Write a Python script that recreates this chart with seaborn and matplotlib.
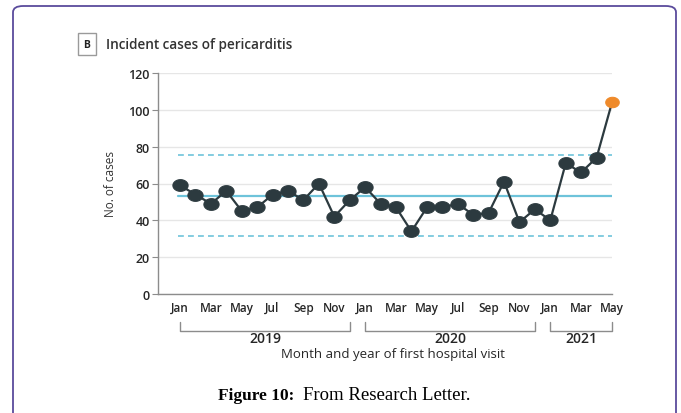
import matplotlib.pyplot as plt
import matplotlib.patches as mpatches
import seaborn as sns
import pandas as pd
import numpy as np

# Monthly incident cases, Jan 2019 - May 2021
month_labels = ["Jan", "Feb", "Mar", "Apr", "May", "Jun",
                "Jul", "Aug", "Sep", "Oct", "Nov", "Dec"]
years = ["2019", "2020", "2021"]
months_per_year = [12, 12, 5]
cases = [59, 54, 49, 56, 45, 47, 54, 56, 51, 60, 42, 51,
         58, 49, 47, 34, 47, 47, 49, 43, 44, 61, 39, 46,
         40, 71, 66, 74, 104]
center_line = 53.2
upper_limit = 75.5
lower_limit = 31.5

dark = "#2c3a3f"
blue = "#6ec3da"
orange = "#ef8a2a"
gray = "#8c8c8c"

df = pd.DataFrame({"idx": np.arange(len(cases)), "cases": cases})
df["month"] = [month_labels[i % 12] for i in range(len(cases))]

sns.set_style("white")
plt.rcParams["font.family"] = ["Open Sans", "DejaVu Sans"]

fig = plt.figure(figsize=(6.81, 4.14), dpi=100)
ax = fig.add_axes([158 / 681, 1 - 295 / 414, 454 / 681, 221 / 414])

# control limits
ax.axhline(center_line, color=blue, lw=1.6, xmin=0.045, xmax=1.0, zorder=2)
ax.axhline(upper_limit, color=blue, lw=1.2, ls=(0, (3.5, 2.5)), xmin=0.045, xmax=1.0, zorder=2)
ax.axhline(lower_limit, color=blue, lw=1.2, ls=(0, (3.5, 2.5)), xmin=0.045, xmax=1.0, zorder=2)

# ellipse-shaped marker
t = np.linspace(0, 2 * np.pi, 40)
ellipse = np.column_stack([1.3 * np.cos(t), np.sin(t)])

sns.lineplot(data=df.iloc[:-1], x="idx", y="cases", color=dark, lw=1.6,
             marker=ellipse, markersize=11, markeredgecolor=dark,
             markerfacecolor=dark, ax=ax, zorder=3)
ax.plot(df["idx"].iloc[-2:], df["cases"].iloc[-2:], color=dark, lw=1.6, zorder=3)
sns.scatterplot(data=df.iloc[-1:], x="idx", y="cases", color=orange,
                marker=ellipse, s=95, edgecolor=orange, ax=ax, zorder=4,
                clip_on=False)

ax.set_ylim(0, 120)
ax.set_xlim(-1.43, 28)
ax.set_yticks(range(0, 121, 20))
ax.yaxis.grid(True, color="#e6e6e6", lw=1)
ax.set_axisbelow(True)

ax.set_xticks(df["idx"])
ax.set_xticklabels([m if m in ("Jan", "Mar", "May", "Jul", "Sep", "Nov") else ""
                    for m in df["month"]])
ax.tick_params(axis="x", length=3, width=0.8, color=gray, labelsize=8.5,
               labelcolor="#262626", pad=2)
ax.tick_params(axis="y", length=4, width=0.8, color=gray, labelsize=9,
               labelcolor="#262626", pad=2, left=True)
for lab in ax.get_xticklabels() + ax.get_yticklabels():
    lab.set_fontweight("semibold")

for side in ["top", "right"]:
    ax.spines[side].set_visible(False)
for side in ["left", "bottom"]:
    ax.spines[side].set_color(gray)
    ax.spines[side].set_linewidth(1)

ax.set_xlabel("")
ax.set_ylabel("No. of cases", fontsize=8.5, color="#333333", labelpad=8)

# year brackets
tr = ax.get_xaxis_transform()
start = 0
for yr, n in zip(years, months_per_year):
    x0 = start
    x1 = start + n - 1
    ax.plot([x0, x0, x1, x1], [-0.127, -0.167, -0.167, -0.127], color=gray,
            lw=1, transform=tr, clip_on=False)
    ax.text((x0 + x1) / 2, -0.2, yr, transform=tr, ha="center", va="center",
            fontsize=10, fontweight="semibold", color="#262626")
    start += n

ax.text(13.8, -0.268, "Month and year of first hospital visit", transform=tr,
        ha="center", va="center", fontsize=9.5, color="#262626")

# title with boxed panel letter
fig.text(87 / 681, 1 - 45 / 414, "B", ha="center", va="center", fontsize=7.5,
         fontweight="bold", color="#222222",
         bbox=dict(boxstyle="square,pad=0.55", fc="white", ec="#9a9a9a", lw=1))
fig.text(106 / 681, 1 - 45 / 414, "Incident cases of pericarditis", ha="left",
         va="center", fontsize=9.8, fontweight="semibold", color="#333333")

# caption
fig.text(294 / 681, 1 - 396 / 414, "Figure 10:", ha="right", va="center",
         fontsize=12.5, fontweight="bold", family="Liberation Serif", color="black")
fig.text(303 / 681, 1 - 396 / 414, "From Research Letter.", ha="left", va="center",
         fontsize=13.5, family="Liberation Serif", color="black")

# page frame
frame = mpatches.FancyBboxPatch((13 / 681, -0.2), 663 / 681, 1 - 7 / 414 + 0.2,
                                boxstyle="round,pad=0,rounding_size=0.015",
                                transform=fig.transFigure, fill=False,
                                ec="#5a4b9c", lw=1.3)
fig.patches.append(frame)

fig.savefig("out.png", dpi=100)
